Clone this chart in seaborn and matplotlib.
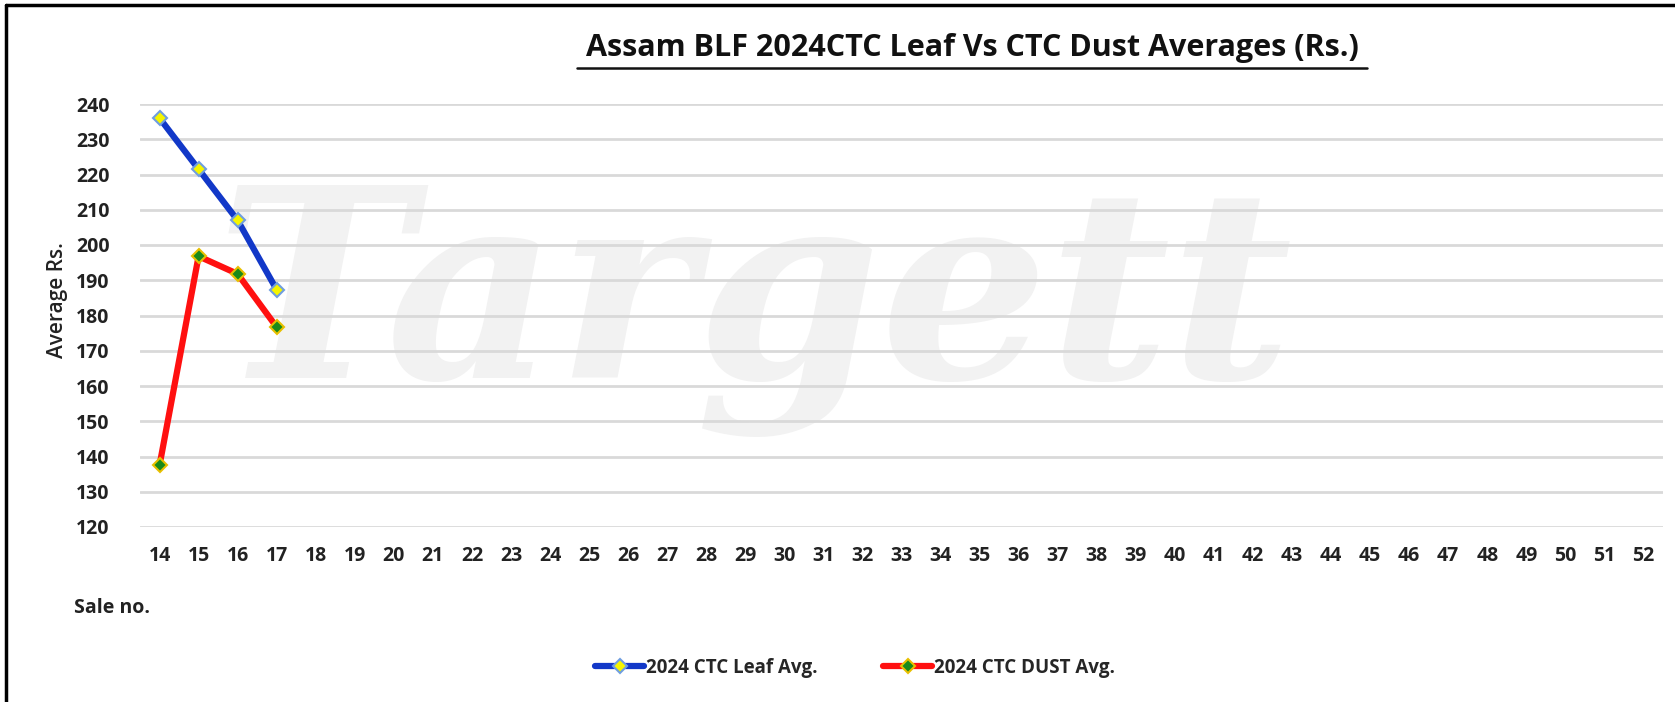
import pandas as pd
import matplotlib.pyplot as plt
import seaborn as sns
from matplotlib.lines import Line2D

sale_nos = list(range(14, 53))
leaf_sales = [14, 15, 16, 17]
leaf_avg = [236, 221.5, 207, 187.3]
dust_sales = [14, 15, 16, 17]
dust_avg = [137.5, 196.8, 191.8, 176.7]
y_ticks = list(range(120, 250, 10))

leaf_df = pd.DataFrame({"sale": leaf_sales, "avg": leaf_avg})
dust_df = pd.DataFrame({"sale": dust_sales, "avg": dust_avg})

sns.set_style("white")
plt.rcParams["font.family"] = ["Open Sans", "DejaVu Sans"]

fig = plt.figure(figsize=(16.75, 7.02), dpi=100)
ax = fig.add_axes([140 / 1675, 1 - 527 / 702, (1663 - 140) / 1675, (527 - 104) / 702])

# faint watermark, kept behind everything
fig.text(0.45, 0.56, "Targett", fontsize=190, color="#f2f2f2", family="DejaVu Serif",
         weight="bold", style="italic", ha="center", va="center", zorder=-5)

sns.lineplot(data=leaf_df, x="sale", y="avg", ax=ax, color="#1238c8", linewidth=4.5,
             marker="D", markersize=7.5, markerfacecolor="#f5f500",
             markeredgecolor="#6f9ee0", markeredgewidth=1.5, label="2024 CTC Leaf Avg.")
sns.lineplot(data=dust_df, x="sale", y="avg", ax=ax, color="#ff1010", linewidth=4.5,
             marker="D", markersize=7.5, markerfacecolor="#1a8a1a",
             markeredgecolor="#e8c000", markeredgewidth=1.5, label="2024 CTC DUST Avg.")

ax.set_xlim(13.5, 52.5)
ax.set_ylim(120, 240)
ax.set_xticks(sale_nos)
ax.set_yticks(y_ticks)
ax.tick_params(axis="both", length=0, labelsize=14)
ax.tick_params(axis="x", pad=14)
ax.tick_params(axis="y", pad=22)
for lbl in ax.get_xticklabels() + ax.get_yticklabels():
    lbl.set_fontweight("bold")
    lbl.set_color("#222222")
ax.yaxis.grid(True, color="#d9d9d9", linewidth=2)
ax.set_axisbelow(True)
ax.patch.set_alpha(0)
for s in ax.spines.values():
    s.set_visible(False)
ax.set_xlabel("")
ax.set_ylabel("")

fig.text(57 / 1675, 1 - 300 / 702, "Average Rs.", rotation=90, fontsize=15,
         weight="semibold", ha="center", va="center", color="#222222")
fig.text(74 / 1675, 1 - 608 / 702, "Sale no.", fontsize=14, weight="bold",
         ha="left", va="center", color="#222222")
fig.text(972 / 1675, 1 - 48 / 702, "Assam BLF 2024CTC Leaf Vs CTC Dust Averages (Rs.)",
         fontsize=22, weight="bold", ha="center", va="center", color="#111111")
fig.add_artist(Line2D([577 / 1675, 1367 / 1675], [1 - 68 / 702, 1 - 68 / 702],
                      color="#111111", linewidth=1.8))

ax.legend_.remove()
handles, labels = ax.get_legend_handles_labels()
fig.legend(handles, labels, loc="center", bbox_to_anchor=(855 / 1675, 1 - 668 / 702),
           ncol=2, frameon=False, handlelength=2.6, handletextpad=0.1,
           columnspacing=3.5, prop={"weight": "bold", "size": 13.5})

# frame border on left and top
fig.add_artist(Line2D([6 / 1675, 6 / 1675], [0, 1 - 5 / 702], color="black", linewidth=2.5))
fig.add_artist(Line2D([6 / 1675, 1], [1 - 5 / 702, 1 - 5 / 702], color="black", linewidth=2.5))

fig.savefig("out.png", dpi=100, facecolor="white")
